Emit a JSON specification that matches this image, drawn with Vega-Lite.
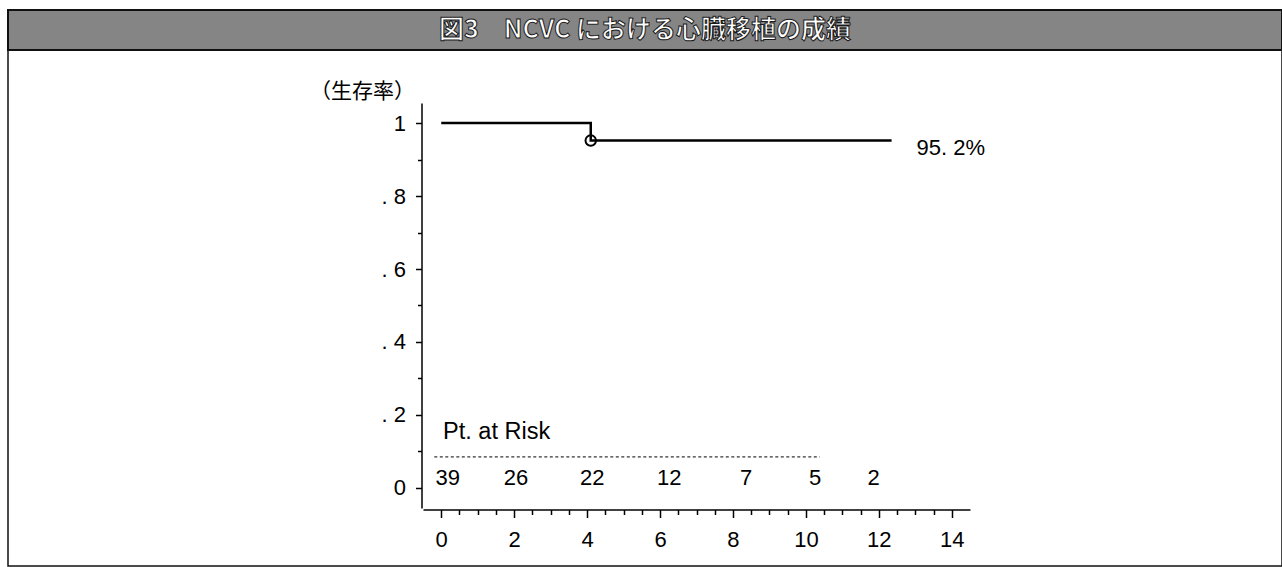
{
  "$schema": "https://vega.github.io/schema/vega-lite/v6.json",
  "padding": {"left": 7, "top": 9, "right": 0, "bottom": 0},
  "background": "white",
  "spacing": 0,
  "bounds": "flush",
  "config": {"view": {"stroke": null}, "font": "Liberation Sans"},
  "datasets": {
    "survival": [
      {"time": 0, "survival": 1},
      {"time": 4.1, "survival": 0.952},
      {"time": 12.35, "survival": 0.952}
    ],
    "censor": [{"time": 4.1, "survival": 0.952}],
    "endlabel": [{"time": 12.35, "survival": 0.952, "label": "95. 2%"}],
    "risk": [
      {"time": 0.18, "n": 39},
      {"time": 2.05, "n": 26},
      {"time": 4.14, "n": 22},
      {"time": 6.25, "n": 12},
      {"time": 8.36, "n": 7},
      {"time": 10.25, "n": 5},
      {"time": 11.86, "n": 2}
    ],
    "heading": [{"title": "図3　NCVC における心臓移植の成績"}],
    "risktitle": [{"label": "Pt. at Risk"}]
  },
  "vconcat": [
    {
      "width": 1274,
      "height": 40,
      "view": {"fill": "#858585", "stroke": "#111111", "strokeWidth": 2},
      "data": {"name": "heading"},
      "mark": {"type": "text", "font": "Noto Sans CJK JP", "fontSize": 25, "fontWeight": "bold", "fill": "white", "stroke": "#1a1a1a", "strokeWidth": 1, "align": "center", "baseline": "middle"},
      "encoding": {"text": {"field": "title"}}
    },
    {
      "width": 1274,
      "height": 516,
      "view": {"stroke": "#111111", "strokeWidth": 1.5},
      "layer": [
        {
          "data": {"name": "survival"},
          "mark": {"type": "line", "interpolate": "step-after", "color": "black", "strokeWidth": 2.5},
          "encoding": {
            "x": {
              "field": "time", "type": "quantitative",
              "scale": {"domain": [-0.5, 14.5], "range": [415, 962], "nice": false, "zero": false},
              "axis": {
                "orient": "bottom", "offset": -56.5, "title": null, "grid": false,
                "values": [0, 0.5, 1, 1.5, 2, 2.5, 3, 3.5, 4, 4.5, 5, 5.5, 6, 6.5, 7, 7.5, 8, 8.5, 9, 9.5, 10, 10.5, 11, 11.5, 12, 12.5, 13, 13.5, 14],
                "format": ".0f",
                "domainColor": "black", "domainWidth": 1.5,
                "tickColor": "black", "tickWidth": 1.5,
                "tickSize": {"condition": {"test": "datum.value % 2 === 0", "value": 8}, "value": 5},
                "labelExpr": "datum.value % 2 === 0 ? datum.label : ''",
                "labelFont": "Liberation Sans", "labelFontSize": 22, "labelColor": "black",
                "labelPadding": 12, "labelFlush": false, "labelOverlap": false
              }
            },
            "y": {
              "field": "survival", "type": "quantitative",
              "scale": {"domain": [-0.055, 1.055], "range": [458, 53], "nice": false, "zero": false},
              "axis": {
                "orient": "left", "offset": -413.5, "grid": false,
                "values": [0, 0.1, 0.2, 0.3, 0.4, 0.5, 0.6, 0.7, 0.8, 0.9, 1],
                "title": "（生存率）", "titleFont": "Noto Sans CJK JP", "titleFontSize": 21, "titleFontWeight": "normal",
                "titleColor": "black", "titleAngle": 0, "titleX": -59.5, "titleY": 41, "titleAlign": "center", "titleBaseline": "middle",
                "domainColor": "black", "domainWidth": 1.5,
                "tickColor": "black", "tickWidth": 1.5,
                "tickSize": {"condition": {"test": "round(datum.value * 10) % 2 === 0", "value": 6}, "value": 4},
                "labelExpr": "round(datum.value * 10) % 2 !== 0 ? '' : (datum.value < 0.01 ? '0' : (datum.value > 0.99 ? '1' : '. ' + round(datum.value * 10)))",
                "labelFont": "Liberation Sans", "labelFontSize": 22, "labelColor": "black",
                "labelPadding": 10, "labelOverlap": false, "labelFlush": false
              }
            }
          }
        },
        {
          "data": {"name": "censor"},
          "mark": {"type": "point", "shape": "circle", "filled": false, "stroke": "black", "strokeWidth": 2, "size": 110, "opacity": 1},
          "encoding": {
            "x": {"field": "time", "type": "quantitative"},
            "y": {"field": "survival", "type": "quantitative"}
          }
        },
        {
          "data": {"name": "endlabel"},
          "mark": {"type": "text", "align": "left", "baseline": "middle", "dx": 25, "dy": 7, "fontSize": 22, "font": "Liberation Sans", "color": "black"},
          "encoding": {
            "x": {"field": "time", "type": "quantitative"},
            "y": {"field": "survival", "type": "quantitative"},
            "text": {"field": "label"}
          }
        },
        {
          "data": {"name": "risktitle"},
          "mark": {"type": "text", "align": "left", "baseline": "middle", "fontSize": 23.5, "font": "Liberation Sans", "color": "black"},
          "encoding": {
            "x": {"datum": 0.05},
            "y": {"datum": 0.153},
            "text": {"field": "label"}
          }
        },
        {
          "data": {"values": [{}]},
          "mark": {"type": "rule", "color": "black", "strokeWidth": 1, "strokeDash": [3, 2.5]},
          "encoding": {
            "x": {"datum": -0.19},
            "x2": {"datum": 10.38},
            "y": {"datum": 0.085}
          }
        },
        {
          "data": {"name": "risk"},
          "mark": {"type": "text", "align": "center", "baseline": "middle", "fontSize": 22, "font": "Liberation Sans", "color": "black"},
          "encoding": {
            "x": {"field": "time", "type": "quantitative"},
            "y": {"datum": 0.027},
            "text": {"field": "n", "type": "quantitative"}
          }
        }
      ]
    }
  ]
}
